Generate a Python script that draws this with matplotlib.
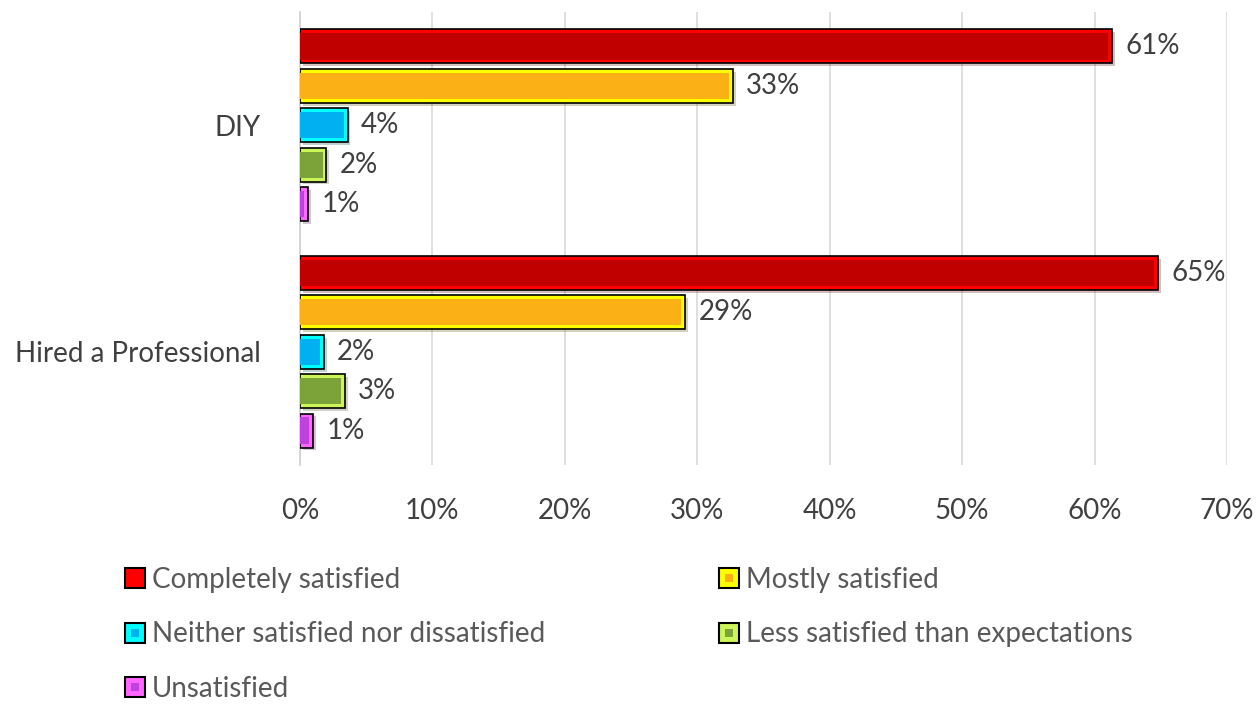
import numpy as np
import matplotlib
matplotlib.use("Agg")
import matplotlib.pyplot as plt
from matplotlib.lines import Line2D
from matplotlib import patheffects as pe

plt.rcParams['font.family'] = ['Lato', 'DejaVu Sans']

groups = ["DIY", "Hired a Professional"]
levels = ["Completely satisfied", "Mostly satisfied",
          "Neither satisfied nor dissatisfied",
          "Less satisfied than expectations", "Unsatisfied"]
# share of respondents (%) per group, one list per satisfaction level
completely = [61.3, 64.8]
mostly = [32.7, 29.1]
neither = [3.6, 1.8]
less = [2.0, 3.4]
unsatisfied = [0.6, 1.0]
series = [completely, mostly, neither, less, unsatisfied]

outer_colors = ["#FF0000", "#FFFF00", "#00FFFF", "#CCF55A", "#FF66FF"]
inner_colors = ["#C00000", "#FBB116", "#00B0F0", "#7BA33A", "#C040E0"]
legend_inner = ["#FF0000", "#FBB116", "#00B0F0", "#7BA33A", "#C040E0"]
text_color = "#404040"
legend_text = "#595959"

fig = plt.figure(figsize=(12.58, 7.04), dpi=100)
ax = fig.add_axes([300 / 1258, 1 - 465 / 704, 927 / 1258, 453 / 704])

bar_h = 0.15
step = 0.174
inset_y = 0.017
inset_x = 0.3
shadow = [pe.SimplePatchShadow(offset=(2, -2), alpha=0.25), pe.Normal()]

for i, vals in enumerate(series):
    y = np.arange(len(groups)) + (i - 2) * step
    vals = np.array(vals)
    ax.barh(y, vals, height=bar_h, color=outer_colors[i], edgecolor="black",
            linewidth=1.2, zorder=3, path_effects=shadow)
    ax.barh(y, np.maximum(vals - inset_x, 0), height=bar_h - 2 * inset_y,
            color=inner_colors[i], linewidth=0, zorder=4)
    for yy, v in zip(y, vals):
        ax.text(v + 1.0, yy, f"{v:.0f}%", va="center", ha="left",
                fontsize=20, color=text_color)

ax.set_xlim(0, 70)
ax.set_ylim(1.5, -0.5)
ax.set_xticks(np.arange(0, 71, 10))
ax.set_xticklabels([f"{t}%" for t in range(0, 71, 10)])
ax.set_yticks(range(len(groups)))
ax.set_yticklabels(groups)
ax.tick_params(axis="x", length=0, pad=24, labelsize=20, labelcolor=text_color)
ax.tick_params(axis="y", length=0, pad=28, labelsize=20, labelcolor=text_color)
ax.grid(axis="x", color="#D9D9D9", linewidth=1.2, zorder=0)
for side in ["top", "right", "bottom"]:
    ax.spines[side].set_visible(False)
ax.spines["left"].set_color("#D0D0D0")
ax.spines["left"].set_linewidth(1.2)

handles = []
for oc, ic in zip(outer_colors, legend_inner):
    outer = Line2D([], [], marker="s", linestyle="none", markersize=14,
                   markerfacecolor=oc, markeredgecolor="black", markeredgewidth=1.5)
    inner = Line2D([], [], marker="s", linestyle="none", markersize=6,
                   markerfacecolor=ic, markeredgewidth=0)
    handles.append((outer, inner))

order = [0, 2, 4, 1, 3]
fig.legend([handles[k] for k in order], [levels[k] for k in order],
           loc="upper left", bbox_to_anchor=(114 / 1258, 1 - 556 / 704),
           ncol=2, frameon=False, fontsize=20, labelcolor=legend_text,
           handlelength=0.7, handletextpad=0.25, columnspacing=6.3,
           labelspacing=1.02, borderaxespad=0)

fig.savefig("out.png", dpi=100)
